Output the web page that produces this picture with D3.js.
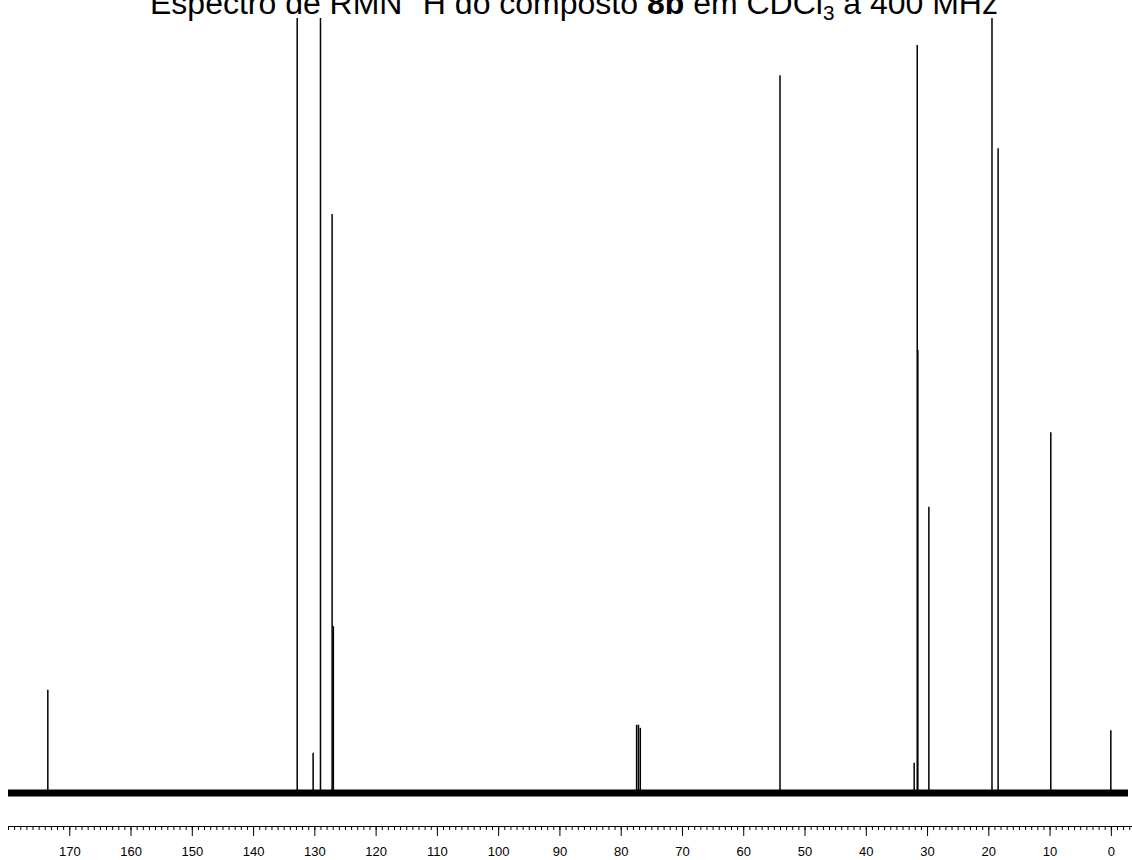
<!DOCTYPE html>
<html>
<head>
<meta charset="utf-8">
<script src="https://cdn.jsdelivr.net/npm/d3@7"></script>
<style>
  html, body { margin: 0; padding: 0; background: #fff; }
  svg { display: block; }
  text { font-family: "Liberation Sans", Arial, sans-serif; }
</style>
</head>
<body>
<svg id="chart" width="1132" height="860"></svg>
<script>
// ---- data (chemical shift in ppm, relative intensity) ----
const peakShifts = [173.5, 132.8, 130.2, 129.0, 127.1, 126.9, 77.4, 77.1, 76.8, 54.0, 32.1, 31.6, 31.5, 29.7, 19.4, 18.4, 9.8, 0.0];
const peakIntensities = [13.3, 115, 5.2, 115, 74.6, 21.5, 8.8, 8.8, 8.4, 92.5, 3.9, 96.4, 57.1, 36.9, 105, 83.1, 46.5, 8.1];
const majorTicks = [170, 160, 150, 140, 130, 120, 110, 100, 90, 80, 70, 60, 50, 40, 30, 20, 10, 0];
const minorTicks = d3.range(-3, 181, 1);
const titleParts = [
  {t: "Espectro de RMN ", w: "normal", s: null},
  {t: "1", w: "normal", s: "sup"},
  {t: "H do composto ", w: "normal", s: null},
  {t: "8b", w: "bold", s: null},
  {t: " em CDCl", w: "normal", s: null},
  {t: "3", w: "normal", s: "sub"},
  {t: " a 400 MHz", w: "normal", s: null}
];

const svg = d3.select("#chart");
const W = 1132, H = 860;

const x = d3.scaleLinear().domain([180, -2.8]).range([8, 1128]);
const y = d3.scaleLinear().domain([0, 100]).range([793, 17]);

// clip for the spectrum region
svg.append("defs").append("clipPath").attr("id", "plotclip")
  .append("rect").attr("x", 0).attr("y", 18).attr("width", W).attr("height", 800);

const plot = svg.append("g").attr("clip-path", "url(#plotclip)");

// baseline (noise band)
plot.append("line")
  .attr("x1", x(180)).attr("x2", x(-2.8))
  .attr("y1", y(0)).attr("y2", y(0))
  .attr("stroke", "#000").attr("stroke-width", 7);

// peaks
const peaks = peakShifts.map((p, i) => ({p, v: peakIntensities[i]}));
plot.selectAll("line.peak").data(peaks).enter().append("line")
  .attr("class", "peak")
  .attr("x1", d => x(d.p)).attr("x2", d => x(d.p))
  .attr("y1", y(0)).attr("y2", d => y(d.v))
  .attr("stroke", "#000").attr("stroke-width", 1.5);

// axes
const axY = 826;
const minorAxis = d3.axisBottom(x).tickValues(minorTicks).tickSize(4).tickFormat("");
const majorAxis = d3.axisBottom(x).tickValues(majorTicks).tickSize(10).tickPadding(11).tickFormat(d3.format("d"));

const gMinor = svg.append("g").attr("transform", `translate(0,${axY})`).call(minorAxis);
gMinor.select(".domain").remove();
const gMajor = svg.append("g").attr("transform", `translate(0,${axY})`).call(majorAxis);
gMajor.select(".domain").remove();
svg.append("line").attr("x1", 8).attr("x2", 1132).attr("y1", axY + 0.5).attr("y2", axY + 0.5)
  .attr("stroke", "#000").attr("stroke-width", 1);

svg.selectAll(".tick line").attr("stroke", "#000").attr("stroke-width", 1);
gMajor.selectAll(".tick text")
  .attr("font-family", "Liberation Sans, Arial, sans-serif")
  .attr("font-size", 13).attr("fill", "#000");

// title
const titleG = svg.append("g");
const title = titleG.append("text")
  .attr("x", 0).attr("y", 0)
  .attr("font-size", 31).attr("fill", "#000");
titleParts.forEach((part, i) => {
  const ts = title.append("tspan").text(part.t).attr("font-weight", part.w);
  const prev = i > 0 ? titleParts[i - 1] : null;
  if (part.s === "sup") ts.attr("font-size", 20).attr("dy", -18);
  else if (part.s === "sub") ts.attr("font-size", 20).attr("dy", 6);
  else if (prev && prev.s === "sup") ts.attr("dy", 18);
  else if (prev && prev.s === "sub") ts.attr("dy", -6);
});
const tw = title.node().getComputedTextLength();
const sx = 848 / tw;
titleG.attr("transform", `translate(150,14) scale(${sx},1)`);
</script>
</body>
</html>
